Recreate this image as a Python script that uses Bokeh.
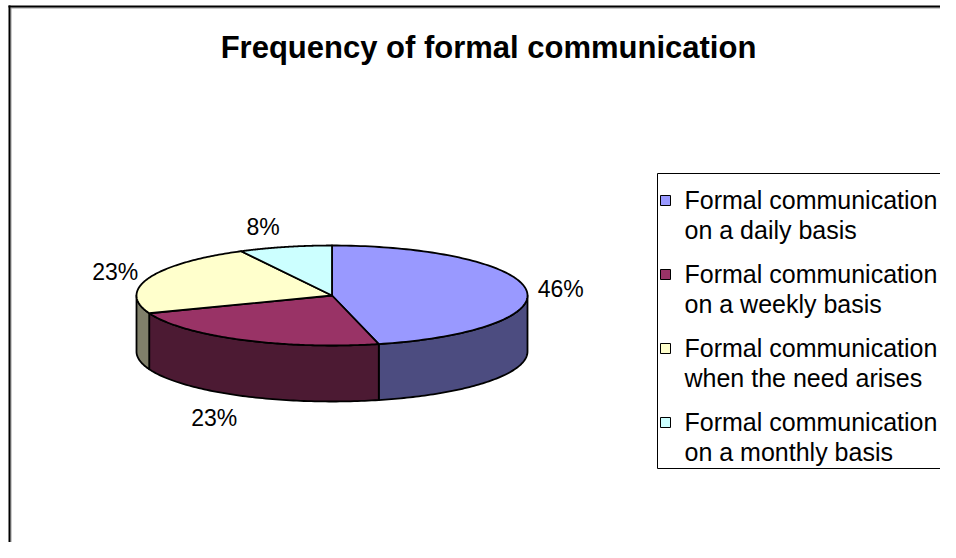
import numpy as np
from bokeh.plotting import figure
from bokeh.models import Range1d
from bokeh.core.properties import value
from bokeh.embed import file_html
from bokeh.resources import INLINE

# ---------------- data ----------------
title = "Frequency of formal communication"
categories = [
    "Formal communication on a daily basis",
    "Formal communication on a weekly basis",
    "Formal communication when the need arises",
    "Formal communication on a monthly basis",
]
counts = [6, 3, 3, 1]
pct_labels = ["46%", "23%", "23%", "8%"]
top_colors = ["#9999FF", "#993366", "#FFFFCC", "#CCFFFF"]
side_colors = ["#4C4C80", "#4C1A33", "#80806A", "#668080"]

# ---------------- geometry (pixel space) ----------------
CX, CY = 331.5, 295.0
RX, RY = 195.5, 50.0
DEPTH = 56.0
FONT = value("Liberation Sans")

p = figure(width=940, height=542, output_backend="svg", toolbar_location=None,
           x_range=Range1d(0, 940), y_range=Range1d(542, 0),
           x_axis_type=None, y_axis_type=None, min_border=0)
p.grid.visible = False
p.outline_line_color = None
p.background_fill_color = "white"
p.border_fill_color = "white"

# outer chart border (only left/top visible in crop)
p.segment(x0=[10.5, 10.5], y0=[7.5, 7.5], x1=[10.5, 2000], y1=[2000, 7.5], line_color="#9a9a9a", line_width=1)
p.segment(x0=[9, 8], y0=[5, 6], x1=[9, 2000], y1=[2000, 6], line_color="black", line_width=2)


def ell(t_deg, dy=0.0):
    t = np.radians(t_deg)
    return CX + RX * np.cos(t), CY + RY * np.sin(t) + dy


total = float(sum(counts))
starts, ends = [], []
a = -90.0
for c in counts:
    sweep = 360.0 * c / total
    starts.append(a)
    ends.append(a + sweep)
    a += sweep

side_xs, side_ys, side_fc = [], [], []
top_xs, top_ys = [], []
for i in range(len(counts)):
    t0, t1 = starts[i], ends[i]
    for off in (0.0, -360.0):
        lo, hi = max(t0 + off, 0.0), min(t1 + off, 180.0)
        if hi > lo:
            ts = np.linspace(lo, hi, 80)
            xt, yt = ell(ts)
            xb, yb = ell(ts[::-1], DEPTH)
            side_xs.append(list(np.concatenate([xt, xb])))
            side_ys.append(list(np.concatenate([yt, yb])))
            side_fc.append(side_colors[i])
    ts = np.linspace(t0, t1, 120)
    xt, yt = ell(ts)
    top_xs.append([CX] + list(xt))
    top_ys.append([CY] + list(yt))

p.patches(side_xs, side_ys, fill_color=side_fc, line_color="black", line_width=1.8, line_join="round")
p.patches(top_xs, top_ys, fill_color=top_colors, line_color="black", line_width=1.8, line_join="round")

# percentage labels placed outside the pie at each slice's mid-angle
lx, ly = [], []
for i in range(len(counts)):
    m = np.radians((starts[i] + ends[i]) / 2.0)
    cm, sm = np.cos(m), np.sin(m)
    ax = CX + RX * cm
    ay = CY + RY * sm + (DEPTH if sm > 0 else 0.0)
    hw = 6.0 * len(pct_labels[i]) + 10
    lx.append(ax + cm * (hw + 7) - 20 * (1 - abs(cm)))
    ly.append(ay + sm * 23 + 2)
p.text(x=lx, y=ly, text=pct_labels, text_font=FONT, text_font_size="23px",
       text_color="black", text_align="center", text_baseline="alphabetic")

# title
p.text(x=[488], y=[47], text=[title], text_font=FONT, text_font_style="bold",
       text_font_size="31px", text_color="black", text_align="center", text_baseline="alphabetic")

# legend
p.quad(left=[657], right=[1200], top=[173], bottom=[468], fill_color="white",
       line_color="black", line_width=1)
line1, line2 = [], []
for c in categories:
    w = c.split(" ")
    line1.append(" ".join(w[:2]))
    line2.append(" ".join(w[2:]))
rows = [199 + 74 * i for i in range(len(categories))]
p.rect(x=[665] * len(rows), y=[r + 1 for r in rows], width=10, height=10,
       fill_color=top_colors, line_color="black", line_width=1)
p.text(x=[684] * len(rows), y=rows, text=line1, text_font=FONT, text_font_size="25px",
       text_color="black", text_align="left", text_baseline="alphabetic")
p.text(x=[684] * len(rows), y=[r + 30 for r in rows], text=line2, text_font=FONT, text_font_size="25px",
       text_color="black", text_align="left", text_baseline="alphabetic")

open("out.html", "w").write(file_html(p, INLINE))
